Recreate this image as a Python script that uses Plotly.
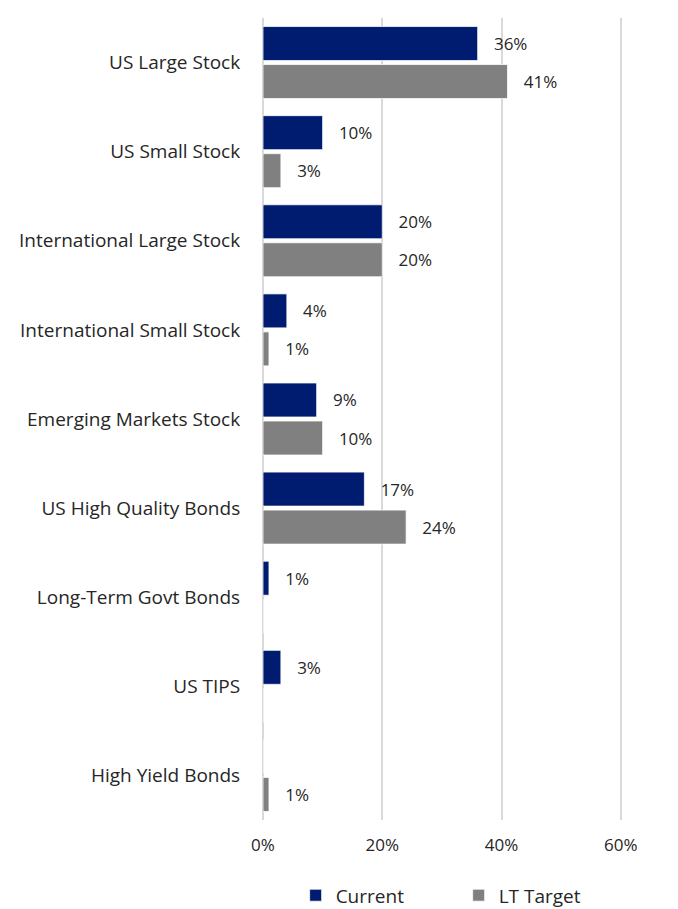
import plotly.graph_objects as go

categories = ["US Large Stock", "US Small Stock", "International Large Stock",
              "International Small Stock", "Emerging Markets Stock",
              "US High Quality Bonds", "Long-Term Govt Bonds", "US TIPS",
              "High Yield Bonds"]
current = [0.36, 0.10, 0.20, 0.04, 0.09, 0.17, 0.01, 0.03, 0.0]
lt_target = [0.41, 0.03, 0.20, 0.01, 0.10, 0.24, 0.0, 0.0, 0.01]
x_ticks = [0, 0.2, 0.4, 0.6]
x_tick_labels = ["0%", "20%", "40%", "60%"]

FONT = "Open Sans, Segoe UI, sans-serif"
TXT = "#262626"
PAD = "\u00a0\u00a0\u00a0"


def labels(vals):
    return [PAD + f"{v*100:.0f}%" if v > 0 else "" for v in vals]


fig = go.Figure()
fig.add_trace(go.Bar(
    y=categories, x=current, name="Current", orientation="h",
    marker=dict(color="#001C71", line=dict(color="#ffffff", width=0.75)),
    text=labels(current), textposition="outside", cliponaxis=False,
    textfont=dict(family=FONT, size=17, color=TXT),
))
fig.add_trace(go.Bar(
    y=categories, x=lt_target, name="LT Target", orientation="h",
    marker=dict(color="#808080", line=dict(color="#ffffff", width=0.75)),
    text=labels(lt_target), textposition="outside", cliponaxis=False,
    textfont=dict(family=FONT, size=17, color=TXT),
))

fig.update_layout(
    width=678, height=909,
    margin=dict(l=263, r=56, t=18, b=89),
    paper_bgcolor="white", plot_bgcolor="white",
    barmode="group", bargap=0.147, bargroupgap=0.105,
    font=dict(family=FONT, size=17, color=TXT),
    showlegend=True,
    legend=dict(orientation="h", x=0.545, xanchor="center", xref="paper",
                y=0.015, yanchor="middle", yref="container",
                font=dict(family=FONT, size=19, color=TXT),
                entrywidth=118, itemwidth=30, traceorder="normal"),
    uniformtext=dict(mode=False),
)
fig.update_xaxes(range=[0, 0.602], tickvals=x_ticks, ticktext=x_tick_labels,
                 showgrid=True, gridcolor="#d9d9d9", gridwidth=1.5,
                 zeroline=True, zerolinecolor="#d9d9d9", zerolinewidth=1.5,
                 ticks="outside", ticklen=10, tickcolor="rgba(0,0,0,0)",
                 showline=False, tickfont=dict(family=FONT, size=17, color=TXT))
fig.update_yaxes(autorange="reversed", showgrid=False, showline=False,
                 ticks="outside", ticklen=18, tickcolor="rgba(0,0,0,0)",
                 tickfont=dict(family=FONT, size=19, color=TXT))

fig.write_html("out.html")
